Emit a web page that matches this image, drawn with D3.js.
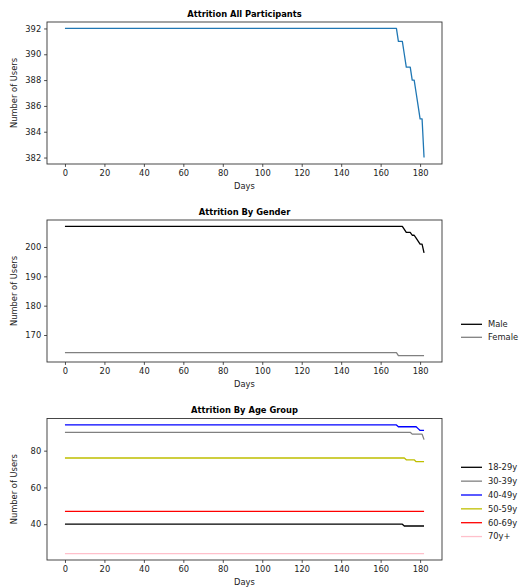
<!DOCTYPE html>
<html>
<head>
<meta charset="utf-8">
<script src="https://cdn.jsdelivr.net/npm/d3@7"></script>
<style>
  body { margin: 0; background: #fff; }
  svg text { font-family: "DejaVu Sans", sans-serif; }
</style>
</head>
<body>
<div id="chart"></div>
<script>
// days where something changes (lines are flat between them)
const days = [0, 168, 169, 171, 172, 173, 175, 176, 177, 178, 179, 180, 181, 182];
const xTicks = [0, 20, 40, 60, 80, 100, 120, 140, 160, 180];

// all participants
const allUsers = [392, 392, 391, 391, 390, 389, 389, 388, 388, 387, 386, 385, 385, 382];

// by gender
const genderNames = ["Male", "Female"];
const male = [207, 207, 207, 207, 206, 205, 205, 204, 204, 203, 202, 201, 201, 198];
const female = [164, 164, 163, 163, 163, 163, 163, 163, 163, 163, 163, 163, 163, 163];

// by age group
const ageNames = ["18-29y", "30-39y", "40-49y", "50-59y", "60-69y", "70y+"];
const age18 = [40, 40, 40, 40, 39, 39, 39, 39, 39, 39, 39, 39, 39, 39];
const age30 = [90, 90, 90, 90, 90, 90, 90, 89, 89, 89, 89, 89, 89, 86];
const age40 = [94, 94, 93, 93, 93, 93, 93, 93, 93, 93, 92, 91, 91, 91];
const age50 = [76, 76, 76, 76, 76, 75, 75, 75, 75, 74, 74, 74, 74, 74];
const age60 = [47, 47, 47, 47, 47, 47, 47, 47, 47, 47, 47, 47, 47, 47];
const age70 = [24, 24, 24, 24, 24, 24, 24, 24, 24, 24, 24, 24, 24, 24];

const yTicksAll = [382, 384, 386, 388, 390, 392];
const yTicksGender = [170, 180, 190, 200];
const yTicksAge = [40, 60, 80];

const W = 520, H = 588;
const left = 47, right = 442;
const fs = 8.33;

const svg = d3.select("#chart").append("svg").attr("width", W).attr("height", H);

// shared x scale (matplotlib style 5% margins)
const xPad = (d3.max(days) - d3.min(days)) * 0.05;
const x = d3.scaleLinear().domain([d3.min(days) - xPad, d3.max(days) + xPad]).range([left, right]);

const panels = [
  {
    title: "Attrition All Participants", top: 22, bottom: 164, yTicks: yTicksAll,
    series: [{ name: "all", values: allUsers, color: "#1f77b4" }],
    legend: null
  },
  {
    title: "Attrition By Gender", top: 220, bottom: 362, yTicks: yTicksGender,
    series: [
      { name: genderNames[0], values: male, color: "#000000" },
      { name: genderNames[1], values: female, color: "#808080" }
    ],
    legend: { y0: 324.3, step: 13 }
  },
  {
    title: "Attrition By Age Group", top: 418.5, bottom: 560, yTicks: yTicksAge,
    series: [
      { name: ageNames[0], values: age18, color: "#000000" },
      { name: ageNames[1], values: age30, color: "#808080" },
      { name: ageNames[2], values: age40, color: "#0000ff" },
      { name: ageNames[3], values: age50, color: "#bfbf00" },
      { name: ageNames[4], values: age60, color: "#ff0000" },
      { name: ageNames[5], values: age70, color: "#ffc0cb" }
    ],
    legend: { y0: 467.3, step: 13.85 }
  }
];

panels.forEach((p) => {
  const allVals = p.series.flatMap((s) => s.values);
  const lo = d3.min(allVals), hi = d3.max(allVals);
  const pad = (hi - lo) * 0.05;
  const y = d3.scaleLinear().domain([lo - pad, hi + pad]).range([p.bottom, p.top]);

  const g = svg.append("g");

  // lines
  const line = d3.line().x((d, i) => x(days[i])).y((d) => y(d));
  p.series.forEach((s) => {
    g.append("path")
      .datum(s.values)
      .attr("fill", "none")
      .attr("stroke", s.color)
      .attr("stroke-width", 1.3)
      .attr("stroke-linejoin", "round")
      .attr("d", line);
  });

  // x axis
  const xa = g.append("g")
    .attr("transform", `translate(0,${p.bottom})`)
    .call(d3.axisBottom(x).tickValues(xTicks).tickSize(2.9).tickPadding(2.9).tickSizeOuter(0));
  // y axis
  const ya = g.append("g")
    .attr("transform", `translate(${left},0)`)
    .call(d3.axisLeft(y).tickValues(p.yTicks).tickSize(2.9).tickPadding(2.9).tickSizeOuter(0));
  [xa, ya].forEach((a) => {
    a.select(".domain").remove();
    a.attr("font-size", fs).attr("font-family", "DejaVu Sans");
    a.selectAll("text").attr("fill", "#222");
    a.selectAll("line").attr("stroke", "#222").attr("stroke-width", 0.8);
  });

  // frame
  g.append("rect")
    .attr("x", left).attr("y", p.top)
    .attr("width", right - left).attr("height", p.bottom - p.top)
    .attr("fill", "none").attr("stroke", "#333").attr("stroke-width", 0.9);

  // title
  g.append("text")
    .attr("x", (left + right) / 2).attr("y", p.top - 5.5)
    .attr("text-anchor", "middle").attr("font-weight", "bold")
    .attr("font-size", fs).attr("fill", "#000")
    .text(p.title);

  // axis labels
  g.append("text")
    .attr("x", (left + right) / 2).attr("y", p.bottom + 25)
    .attr("text-anchor", "middle").attr("font-size", fs).attr("fill", "#222")
    .text("Days");
  g.append("text")
    .attr("transform", `translate(17,${(p.top + p.bottom) / 2}) rotate(-90)`)
    .attr("text-anchor", "middle").attr("font-size", fs).attr("fill", "#222")
    .text("Number of Users");

  // legend
  if (p.legend) {
    const lg = g.append("g");
    p.series.forEach((s, i) => {
      const ly = p.legend.y0 + i * p.legend.step;
      lg.append("line")
        .attr("x1", 461).attr("x2", 482).attr("y1", ly).attr("y2", ly)
        .attr("stroke", s.color).attr("stroke-width", 1.3);
      lg.append("text")
        .attr("x", 488).attr("y", ly).attr("dy", "0.35em")
        .attr("font-size", fs).attr("fill", "#222")
        .text(s.name);
    });
  }
});
</script>
</body>
</html>
